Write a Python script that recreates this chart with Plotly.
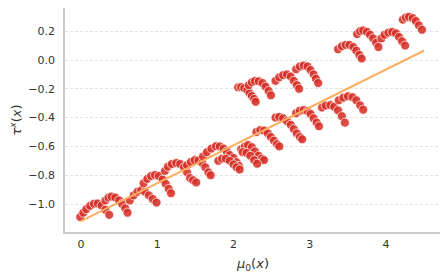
import plotly.graph_objects as go

# Scatter arcs (mu0(x), tau(x))
arc_x = [
    [-0.01, 0.03, 0.07, 0.12, 0.17, 0.22, 0.27, 0.32, 0.37],
    [0.32, 0.36, 0.40, 0.45, 0.50, 0.54, 0.58, 0.61],
    [0.64, 0.69, 0.74, 0.79, 0.84, 0.89, 0.94, 0.99],
    [0.82, 0.87, 0.92, 0.97, 1.02, 1.07, 1.11, 1.15, 1.18],
    [1.10, 1.14, 1.19, 1.25, 1.30, 1.35, 1.39, 1.43, 1.47, 1.51],
    [1.39, 1.44, 1.49, 1.54, 1.59, 1.63, 1.67, 1.70],
    [1.60, 1.65, 1.71, 1.77, 1.82, 1.87, 1.91, 1.95, 2.00, 2.04, 2.07],
    [1.80, 1.85, 1.90, 1.95, 2.00, 2.04, 2.08],
    [2.10, 2.15, 2.19, 2.24, 2.28, 2.33, 2.37, 2.40],
    [2.12, 2.17, 2.22, 2.27, 2.31],
    [2.30, 2.35, 2.40, 2.45, 2.49, 2.53, 2.57, 2.60],
    [2.55, 2.60, 2.65, 2.70, 2.75, 2.79, 2.83, 2.87, 2.90],
    [2.82, 2.87, 2.92, 2.97, 3.01, 3.05, 3.09, 3.12],
    [3.16, 3.21, 3.27, 3.32, 3.37, 3.42, 3.46],
    [3.38, 3.44, 3.50, 3.56, 3.61, 3.66, 3.70],
    [2.06, 2.10, 2.14, 2.18, 2.21, 2.24, 2.27, 2.29],
    [2.20, 2.24, 2.28, 2.33, 2.38, 2.42, 2.46, 2.49],
    [2.55, 2.60, 2.65, 2.70, 2.75, 2.79, 2.83, 2.86],
    [2.82, 2.87, 2.92, 2.97, 3.01, 3.05, 3.08, 3.11],
    [3.37, 3.42, 3.47, 3.52, 3.57, 3.61, 3.65, 3.68],
    [3.62, 3.66, 3.70, 3.75, 3.79, 3.83, 3.87, 3.90],
    [3.94, 3.98, 4.03, 4.08, 4.13, 4.17, 4.21, 4.25],
    [4.22, 4.26, 4.30, 4.35, 4.39, 4.43, 4.47],
]
arc_y = [
    [-1.09, -1.06, -1.035, -1.012, -0.998, -0.996, -1.01, -1.04, -1.075],
    [-0.975, -0.955, -0.948, -0.955, -0.975, -1.0, -1.03, -1.06],
    [-0.975, -0.94, -0.915, -0.905, -0.915, -0.94, -0.965, -0.99],
    [-0.856, -0.825, -0.805, -0.798, -0.805, -0.83, -0.86, -0.895, -0.925],
    [-0.77, -0.74, -0.722, -0.715, -0.722, -0.745, -0.78, -0.82, -0.835, -0.85],
    [-0.73, -0.708, -0.695, -0.698, -0.715, -0.745, -0.78, -0.80],
    [-0.67, -0.64, -0.615, -0.598, -0.60, -0.615, -0.635, -0.66, -0.68, -0.71, -0.735],
    [-0.70, -0.685, -0.685, -0.70, -0.725, -0.745, -0.76],
    [-0.62, -0.60, -0.59, -0.605, -0.635, -0.665, -0.685, -0.695],
    [-0.64, -0.645, -0.665, -0.695, -0.72],
    [-0.50, -0.487, -0.49, -0.51, -0.535, -0.56, -0.585, -0.60],
    [-0.40, -0.395, -0.405, -0.425, -0.45, -0.48, -0.51, -0.535, -0.55],
    [-0.37, -0.352, -0.347, -0.355, -0.375, -0.405, -0.435, -0.46],
    [-0.33, -0.316, -0.313, -0.325, -0.35, -0.39, -0.435],
    [-0.28, -0.262, -0.252, -0.258, -0.28, -0.315, -0.345],
    [-0.19, -0.188, -0.195, -0.21, -0.23, -0.25, -0.27, -0.29],
    [-0.175, -0.155, -0.146, -0.148, -0.16, -0.185, -0.215, -0.245],
    [-0.145, -0.12, -0.105, -0.10, -0.115, -0.145, -0.175, -0.20],
    [-0.065, -0.045, -0.038, -0.045, -0.07, -0.10, -0.13, -0.16],
    [0.075, 0.095, 0.105, 0.105, 0.09, 0.065, 0.035, 0.01],
    [0.18, 0.20, 0.205, 0.195, 0.175, 0.15, 0.12, 0.09],
    [0.15, 0.175, 0.19, 0.195, 0.185, 0.16, 0.13, 0.10],
    [0.28, 0.295, 0.30, 0.29, 0.27, 0.24, 0.21],
]

# Fitted line endpoints
line_x = [0.0, 4.5]
line_y = [-1.118, 0.066]

x_ticks = [0, 1, 2, 3, 4]
y_ticks = [-1.0, -0.8, -0.6, -0.4, -0.2, 0.0, 0.2]

xs = [v for a in arc_x for v in a]
ys = [v for a in arc_y for v in a]

fig = go.Figure()
fig.add_trace(go.Scatter(
    x=xs, y=ys, mode="markers",
    marker=dict(size=9, color="#d73027", opacity=0.88,
                line=dict(color="white", width=0.8)),
    showlegend=False, hoverinfo="skip"))
fig.add_trace(go.Scatter(
    x=line_x, y=line_y, mode="lines",
    line=dict(color="#fdae61", width=2),
    showlegend=False, hoverinfo="skip"))

fig.update_layout(
    width=448, height=279,
    margin=dict(l=57, r=15, t=0, b=55, pad=0),
    paper_bgcolor="white", plot_bgcolor="white",
    font=dict(family="DejaVu Sans", size=11, color="#333333"),
    xaxis=dict(
        range=[-0.21, 4.72], tickvals=x_ticks, ticktext=[str(t) for t in x_ticks],
        showgrid=False, zeroline=False, automargin=False,
        showline=True, linecolor="#cccccc", linewidth=1.5,
        ticks="outside", ticklen=1, tickcolor="rgba(0,0,0,0)",
        title=dict(text="<i>μ</i><sub>0</sub>(<i>x</i>)", font=dict(size=13), standoff=9),
    ),
    yaxis=dict(
        range=[-1.194, 0.361], tickvals=y_ticks, tickformat=".1f",
        showgrid=True, gridcolor="#e3e3e3", gridwidth=0.8, griddash="3px,2px",
        zeroline=False, automargin=False,
        showline=True, linecolor="#cccccc", linewidth=1.5,
        ticks="outside", ticklen=6, tickcolor="rgba(0,0,0,0)",
        title=dict(text="<i>τ</i><sup><i>x</i></sup>(<i>x</i>)", font=dict(size=13), standoff=4),
    ),
)

fig.write_html("out.html")
